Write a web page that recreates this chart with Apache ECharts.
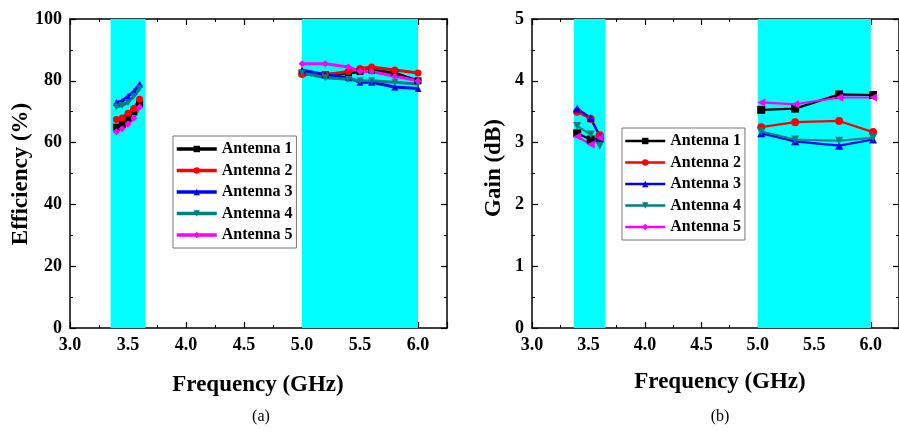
<!DOCTYPE html>
<html>
<head>
<meta charset="utf-8">
<script src="https://cdn.jsdelivr.net/npm/echarts@6/dist/echarts.min.js"></script>
<style>
  html, body { margin: 0; padding: 0; background: #fff; }
  #chart { width: 899px; height: 433px; }
</style>
</head>
<body>
<div id="chart"></div>
<script>
// Antenna names shared by both panels
const antennas = ['Antenna 1', 'Antenna 2', 'Antenna 3', 'Antenna 4', 'Antenna 5'];
const colors = ['#000000', '#ff0000', '#0000ff', '#008080', '#ff00ff'];

// (a) Efficiency (%) vs frequency (GHz)
const effFreqLow = [3.4, 3.45, 3.5, 3.55, 3.6];
const effFreqHigh = [5.0, 5.2, 5.4, 5.5, 5.6, 5.8, 6.0];
const effLow1 = [65, 66, 68, 70, 72.5];
const effLow2 = [67.5, 68, 69.5, 71, 74];
const effLow3 = [73, 73.5, 75, 76.5, 79];
const effLow4 = [71.5, 72, 73, 75, 77.5];
const effLow5 = [63.5, 64.5, 66, 68, 71.5];
const effHigh1 = [82.5, 82, 82.5, 83, 83.5, 82.5, 80];
const effHigh2 = [82, 82, 83, 84, 84.5, 83.5, 82.5];
const effHigh3 = [83.5, 82, 81, 79.5, 79.5, 78, 77.5];
const effHigh4 = [82.5, 81, 80.5, 80, 80, 79.5, 79];
const effHigh5 = [85.5, 85.5, 84.5, 83, 83, 81.5, 80];

// (b) Gain (dB) vs frequency (GHz)
const gainFreqLow = [3.4, 3.52, 3.6];
const gainFreqHigh = [5.03, 5.33, 5.72, 6.02];
const gainLow1 = [3.15, 3.05, 3.07];
const gainLow2 = [3.5, 3.38, 3.12];
const gainLow3 = [3.55, 3.4, 3.1];
const gainLow4 = [3.27, 3.13, 2.95];
const gainLow5 = [3.1, 2.97, 3.08];
const gainHigh1 = [3.53, 3.55, 3.78, 3.77];
const gainHigh2 = [3.25, 3.33, 3.35, 3.17];
const gainHigh3 = [3.15, 3.02, 2.95, 3.05];
const gainHigh4 = [3.18, 3.05, 3.03, 3.08];
const gainHigh5 = [3.65, 3.62, 3.73, 3.73];

// Shaded operating bands (GHz)
const effBands = [[3.35, 3.65], [5.0, 6.0]];
const gainBands = [[3.37, 3.65], [5.0, 6.0]];

// Axis tick labels
const freqTicks = [3.0, 3.5, 4.0, 4.5, 5.0, 5.5, 6.0];
const effTicks = [0, 20, 40, 60, 80, 100];
const gainTicks = [0, 1, 2, 3, 4, 5];

const FONT = 'Liberation Serif';

const effLows = [effLow1, effLow2, effLow3, effLow4, effLow5];
const effHighs = [effHigh1, effHigh2, effHigh3, effHigh4, effHigh5];
const gainLows = [gainLow1, gainLow2, gainLow3, gainLow4, gainLow5];
const gainHighs = [gainHigh1, gainHigh2, gainHigh3, gainHigh4, gainHigh5];

const effSymbols = [
  { symbol: 'rect', rotate: 0 },
  { symbol: 'circle', rotate: 0 },
  { symbol: 'triangle', rotate: 0 },
  { symbol: 'triangle', rotate: 180 },
  { symbol: 'diamond', rotate: 0 }
];
const gainSymbols = [
  { symbol: 'rect', rotate: 0 },
  { symbol: 'circle', rotate: 0 },
  { symbol: 'triangle', rotate: 0 },
  { symbol: 'triangle', rotate: 180 },
  { symbol: 'triangle', rotate: 90 }
];

function pairs(xs, ys) { return xs.map((x, i) => [x, ys[i]]); }

const tickLabel = { fontFamily: FONT, fontWeight: 'bold', fontSize: 18, color: '#000' };
const tickStyle = {
  axisLine: { show: true, onZero: false, lineStyle: { color: '#000', width: 1.5 } },
  axisTick: { show: true, inside: true, length: 6, lineStyle: { color: '#000', width: 1.2 } },
  minorTick: { show: true, splitNumber: 2, length: 3, lineStyle: { color: '#000', width: 1 } },
  splitLine: { show: false }
};

function xAxisDef(gridIndex) {
  return {
    type: 'value', gridIndex, min: 3, max: 6.25, interval: 0.5, ...tickStyle,
    axisLabel: {
      ...tickLabel, margin: 8, showMaxLabel: false,
      formatter: v => freqTicks.some(t => Math.abs(t - v) < 1e-6) ? v.toFixed(1) : ''
    }
  };
}
function xMirror(gridIndex) {
  return {
    type: 'value', gridIndex, min: 3, max: 6.25, interval: 0.5, position: 'top',
    ...tickStyle, axisLabel: { show: false }
  };
}
function yAxisDef(gridIndex, max, interval, ticks) {
  return {
    type: 'value', gridIndex, min: 0, max, interval, ...tickStyle,
    axisLabel: { ...tickLabel, margin: 8, formatter: v => ticks.includes(v) ? String(v) : '' }
  };
}
function yMirror(gridIndex, max, interval) {
  return {
    type: 'value', gridIndex, min: 0, max, interval, position: 'right',
    ...tickStyle, axisLabel: { show: false }
  };
}

function bandSeries(xIdx, yIdx, bands) {
  return {
    type: 'line', xAxisIndex: xIdx, yAxisIndex: yIdx, data: [], z: 1, silent: true,
    markArea: {
      silent: true,
      itemStyle: { color: '#00ffff', opacity: 1 },
      data: bands.map(b => [{ xAxis: b[0] }, { xAxis: b[1] }])
    }
  };
}

function lineSeries(name, i, xIdx, yIdx, data, sym, lw, ss) {
  return {
    name, type: 'line', xAxisIndex: xIdx, yAxisIndex: yIdx, z: 3,
    data, symbol: sym.symbol, symbolRotate: sym.rotate, symbolSize: ss,
    showAllSymbol: true,
    lineStyle: { color: colors[i], width: lw },
    itemStyle: { color: colors[i], borderWidth: 0 },
    emphasis: { disabled: true }
  };
}

const series = [bandSeries(0, 0, effBands), bandSeries(2, 2, gainBands)];
antennas.forEach((name, i) => {
  series.push(lineSeries(name, i, 0, 0, pairs(effFreqLow, effLows[i]), effSymbols[i], 3, 7));
  series.push(lineSeries(name, i, 0, 0, pairs(effFreqHigh, effHighs[i]), effSymbols[i], 3, 7));
  series.push(lineSeries(name, i, 2, 2, pairs(gainFreqLow, gainLows[i]), gainSymbols[i], 2.2, 8));
  series.push(lineSeries(name, i, 2, 2, pairs(gainFreqHigh, gainHighs[i]), gainSymbols[i], 2.2, 8));
});

const legendText = { fontFamily: FONT, fontWeight: 'bold', fontSize: 16, color: '#000' };

function legendDef(left, top, lw) {
  return {
    left, top, orient: 'vertical', data: antennas,
    itemWidth: 40, itemHeight: 8, itemGap: 5.5,
    padding: [5, 4, 5, 2], backgroundColor: '#fff',
    borderColor: '#777', borderWidth: 1,
    lineStyle: { width: lw },
    textStyle: legendText, selectedMode: false
  };
}

const option = {
  animation: false,
  backgroundColor: '#fff',
  grid: [
    { left: 70, top: 19, width: 377, height: 309, show: false },
    { left: 532, top: 19, width: 371, height: 309, show: false }
  ],
  xAxis: [xAxisDef(0), xMirror(0), xAxisDef(1), xMirror(1)],
  yAxis: [yAxisDef(0, 100, 20, effTicks), yMirror(0, 100, 20), yAxisDef(1, 5, 1, gainTicks), yMirror(1, 5, 1)],
  legend: [legendDef(173, 136, 3.5), legendDef(622, 128, 2.5)],
  graphic: [
    { type: 'text', x: 258, y: 385, style: { text: 'Frequency (GHz)', font: 'bold 23px ' + FONT, fill: '#000', textAlign: 'center', textVerticalAlign: 'middle' } },
    { type: 'text', x: 720, y: 382, style: { text: 'Frequency (GHz)', font: 'bold 23px ' + FONT, fill: '#000', textAlign: 'center', textVerticalAlign: 'middle' } },
    { type: 'text', x: 21, y: 174, rotation: Math.PI / 2, style: { text: 'Efficiency (%)', font: 'bold 23px ' + FONT, fill: '#000', textAlign: 'center', textVerticalAlign: 'middle' } },
    { type: 'text', x: 494, y: 168, rotation: Math.PI / 2, style: { text: 'Gain (dB)', font: 'bold 23px ' + FONT, fill: '#000', textAlign: 'center', textVerticalAlign: 'middle' } },
    { type: 'text', x: 261, y: 417, style: { text: '(a)', font: '16px ' + FONT, fill: '#000', textAlign: 'center', textVerticalAlign: 'middle' } },
    { type: 'text', x: 720, y: 417, style: { text: '(b)', font: '16px ' + FONT, fill: '#000', textAlign: 'center', textVerticalAlign: 'middle' } }
  ],
  series
};

const chart = echarts.init(document.getElementById('chart'), null, { renderer: 'canvas' });
chart.setOption(option);
</script>
</body>
</html>
